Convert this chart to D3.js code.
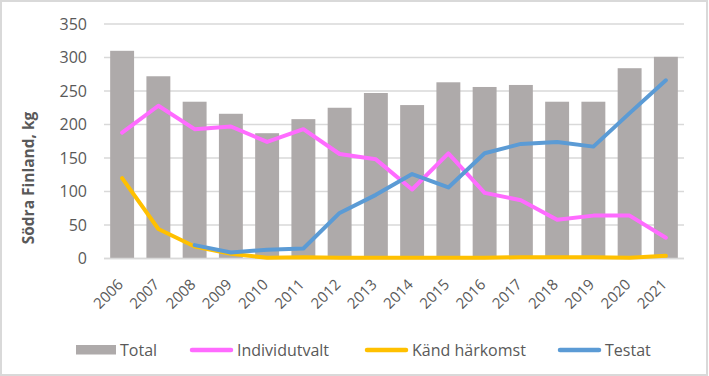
<!DOCTYPE html>
<html><head><meta charset="utf-8">
<script src="https://cdn.jsdelivr.net/npm/d3@7/dist/d3.min.js"></script>
<style>body{margin:0;background:#fff}svg{display:block;font-family:"Open Sans","Liberation Sans",sans-serif}</style>
</head><body>
<script>
const years = ["2006","2007","2008","2009","2010","2011","2012","2013","2014","2015","2016","2017","2018","2019","2020","2021"];
const total = [310,272,234,216,187,208,225,247,229,263,256,259,234,234,284,301];
const individutvalt = [188,228,193,197,174,193,156,148,103,157,98,87,58,64,64,31];
const kandHarkomst = [120,44,18,7,1,2,1,1,1,1,1,2,2,2,1,4];
const testat = [null,null,20,9,13,15,68,95,126,106,157,171,174,167,217,266];
const yTicks = [0,50,100,150,200,250,300,350];
const legendNames = ["Total","Individutvalt","Känd härkomst","Testat"];
const colors = {bar:"#AEAAAA", ind:"#FF6BFF", kand:"#FFC000", test:"#5B9BD5"};
const FONT = "'Open Sans','Liberation Sans',sans-serif";

const W=709,H=376;
const svg=d3.select("body").append("svg").attr("width",W).attr("height",H);
svg.append("rect").attr("x",1).attr("y",1).attr("width",W-3).attr("height",H-2).attr("fill","#fff").attr("stroke","#d9d9d9").attr("stroke-width",2);

const m={left:104,right:684,top:24,bottom:258.5};
const x=d3.scaleBand().domain(years).range([m.left,m.right]).paddingInner(0.34).paddingOuter(0.17);
const y=d3.scaleLinear().domain([0,350]).range([m.bottom,m.top]);

// gridlines
svg.append("g").selectAll("line").data(yTicks).join("line")
  .attr("x1",m.left).attr("x2",m.right).attr("y1",d=>y(d)).attr("y2",d=>y(d))
  .attr("stroke","#d9d9d9").attr("stroke-width",1.5);

// y axis labels
const ya=svg.append("g").attr("transform",`translate(${m.left},0)`).call(d3.axisLeft(y).tickValues(yTicks).tickSize(0).tickPadding(17));
ya.select(".domain").remove();
ya.selectAll("text").attr("font-size",16).attr("fill","#595959").style("font-family",FONT);

// bars
svg.append("g").selectAll("rect").data(total).join("rect")
  .attr("x",(d,i)=>x(years[i])).attr("width",x.bandwidth())
  .attr("y",d=>y(d)).attr("height",d=>y(0)-y(d)).attr("fill",colors.bar);

// x axis labels
const xa=svg.append("g").attr("transform",`translate(0,${m.bottom})`).call(d3.axisBottom(x).tickSize(0).tickPadding(0));
xa.select(".domain").remove();
xa.selectAll("text").attr("font-size",15).attr("fill","#595959").style("font-family",FONT)
  .attr("text-anchor","end").attr("dy",0).attr("y",0)
  .attr("transform","translate(2,27) rotate(-45)");

// bottom axis line
svg.append("line").attr("x1",m.left).attr("x2",m.right).attr("y1",y(0)).attr("y2",y(0)).attr("stroke","#d9d9d9").attr("stroke-width",1.5);

const cx=i=>x(years[i])+x.bandwidth()/2;
const line=d3.line().defined(d=>d!=null).x((d,i)=>cx(i)).y(d=>y(d));
[[individutvalt,colors.ind],[kandHarkomst,colors.kand],[testat,colors.test]].forEach(([data,c])=>{
  svg.append("path").datum(data).attr("d",line).attr("fill","none").attr("stroke",c).attr("stroke-width",4).attr("stroke-linejoin","round").attr("stroke-linecap","round");
});

// y title
svg.append("text").attr("transform","translate(34,178) rotate(-90)").attr("text-anchor","middle")
  .attr("font-size",15.5).attr("font-weight","bold").attr("fill","#595959").style("font-family",FONT).text("Södra Finland, kg");

// legend
const lg=svg.append("g").attr("font-size",16).attr("fill","#595959").style("font-family",FONT);
const legX=[76,190,365,558];
const legC=[colors.bar,colors.ind,colors.kand,colors.test];
legendNames.forEach((n,i)=>{
  if(i===0) lg.append("rect").attr("x",legX[i]).attr("y",345).attr("width",40).attr("height",9.5).attr("fill",colors.bar);
  else lg.append("line").attr("x1",legX[i]+2).attr("x2",legX[i]+41).attr("y1",350).attr("y2",350)
    .attr("stroke",legC[i]).attr("stroke-width",4.5).attr("stroke-linecap","round");
  lg.append("text").attr("x",legX[i]+(i===0?44:47)).attr("y",356).attr("fill","#595959").text(n);
});
</script>
</body></html>
